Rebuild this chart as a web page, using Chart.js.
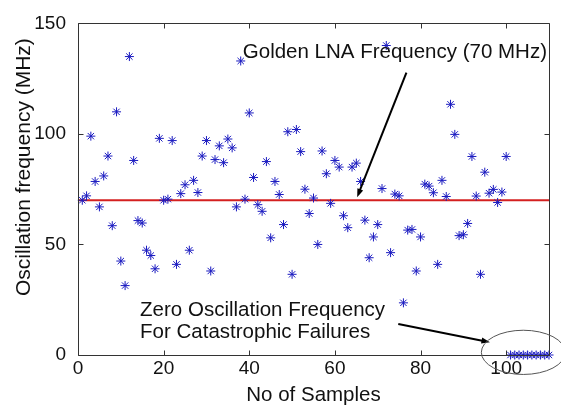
<!DOCTYPE html>
<html>
<head>
<meta charset="utf-8">
<script src="https://cdn.jsdelivr.net/npm/chart.js@4/dist/chart.umd.min.js"></script>
<style>
  html, body { margin: 0; padding: 0; background: #fff; }
  #wrap { width: 561px; height: 407px; }
</style>
</head>
<body>
<div id="wrap"><canvas id="osc"></canvas></div>
<script>
// measured oscillation frequency per sample (MHz), samples 1..110
var freqs = [70, 72, 99, 78.5, 67, 81, 90, 58.5, 110, 42.5,
  31.4, 135, 88, 60.8, 59.7, 47.4, 45, 39, 98, 70,
  70.5, 97, 41, 73, 77, 47.4, 79, 73.5, 90, 97,
  38, 88.4, 94.6, 87, 97.7, 93.7, 67, 133, 70.5, 109.5,
  80.3, 68, 65, 87.5, 53, 78.5, 72.6, 59, 101, 36.5,
  102, 92, 75, 64, 71, 50, 92.3, 82, 68.6, 88,
  85, 63, 57.6, 85, 86.8, 78.5, 61, 44, 53.4, 59,
  75.3, 140, 46.3, 72.8, 72, 23.6, 56.5, 56.8, 38, 53.4,
  77.3, 76.4, 73.4, 41, 79, 71.7, 113.4, 99.8, 54, 54.4,
  59.5, 89.8, 71.9, 36.5, 82.7, 73.2, 74.9, 69, 73.7, 89.8,
  0, 0, 0, 0, 0, 0, 0, 0, 0, 0];
var goldenFreq = 70;
var xMax = 110;
var yMax = 150;
var xTicks = [0, 20, 40, 60, 80, 100];
var yTicks = [0, 50, 100, 150];

// annotation anchors, in data units
var goldenText = "Golden LNA Frequency (70 MHz)";
var zeroText = ["Zero Oscillation Frequency", "For Catastrophic Failures"];
var yTitle = "Oscillation frequency (MHz)";
var arrow1 = [76.7, 127.7, 65.2, 71.4];
var arrow2 = [74.8, 14, 96.2, 5.8];
var ring = [104, 1.2, 9.8, 10]; // cx, cy, rx, ry

var pts = freqs.map(function (v, i) { return { x: i + 1, y: v }; });
var FONT = "'Liberation Sans', Arial, sans-serif";

function arrow(ctx, x1, y1, x2, y2) {
  var a = Math.atan2(y2 - y1, x2 - x1), h = 9;
  ctx.beginPath();
  ctx.moveTo(x1, y1);
  ctx.lineTo(x2 - Math.cos(a) * 4, y2 - Math.sin(a) * 4);
  ctx.stroke();
  ctx.beginPath();
  ctx.moveTo(x2, y2);
  ctx.lineTo(x2 - h * Math.cos(a - 0.35), y2 - h * Math.sin(a - 0.35));
  ctx.lineTo(x2 - h * Math.cos(a + 0.35), y2 - h * Math.sin(a + 0.35));
  ctx.closePath();
  ctx.fill();
}

function seg(ctx, x1, y1, x2, y2) {
  ctx.beginPath();
  ctx.moveTo(x1, y1);
  ctx.lineTo(x2, y2);
  ctx.stroke();
}

// axes box with inward ticks (matlab style)
function drawBox(ctx, l, r, t, b, X, Y) {
  l = Math.round(l) + 0.5; r = Math.round(r) + 0.5;
  t = Math.round(t) + 0.5; b = Math.round(b) + 0.5;
  ctx.save();
  ctx.strokeStyle = '#333';
  ctx.lineWidth = 1;
  seg(ctx, l, t, r, t);
  seg(ctx, r, t, r, b);
  seg(ctx, l, b, r, b);
  seg(ctx, l, t, l, b);
  xTicks.forEach(function (v) {
    var p = Math.round(X(v)) + 0.5;
    seg(ctx, p, b, p, b - 5);
    seg(ctx, p, t, p, t + 5);
  });
  yTicks.forEach(function (v) {
    var p = Math.round(Y(v)) + 0.5;
    seg(ctx, l, p, l + 5, p);
    seg(ctx, r, p, r - 5, p);
  });
  ctx.restore();
}

var notesPlugin = {
  id: 'frameNotes',
  afterDraw: function (chart) {
    var ctx = chart.ctx;
    var xs = chart.scales.x, ys = chart.scales.y;
    var X = function (v) { return xs.getPixelForValue(v); };
    var Y = function (v) { return ys.getPixelForValue(v); };
    drawBox(ctx, X(0), X(xMax), Y(yMax), Y(0), X, Y);
    ctx.save();
    ctx.fillStyle = '#111';
    ctx.font = '20.5px ' + FONT;
    ctx.textBaseline = 'alphabetic';
    ctx.textAlign = 'right';
    ctx.fillText(goldenText, X(xMax) - 2, Y(134.3));
    ctx.textAlign = 'left';
    ctx.fillText(zeroText[0], X(14.5), Y(17.5));
    ctx.fillText(zeroText[1], X(14.5), Y(7.8));

    // y axis title
    ctx.save();
    ctx.translate(24, Y(85));
    ctx.rotate(-Math.PI / 2);
    ctx.textAlign = 'center';
    ctx.textBaseline = 'middle';
    ctx.font = '21px ' + FONT;
    ctx.fillText(yTitle, 0, 0);
    ctx.restore();

    ctx.strokeStyle = '#000';
    ctx.fillStyle = '#000';
    ctx.lineWidth = 2;
    arrow(ctx, X(arrow1[0]), Y(arrow1[1]), X(arrow1[2]), Y(arrow1[3]));
    arrow(ctx, X(arrow2[0]), Y(arrow2[1]), X(arrow2[2]), Y(arrow2[3]));

    ctx.lineWidth = 1;
    ctx.strokeStyle = '#555';
    ctx.beginPath();
    var cx = X(ring[0]), cy = Y(ring[1]);
    var rx = X(ring[0] + ring[2]) - cx, ry = Y(0) - Y(ring[3]);
    ctx.ellipse(cx, cy, rx, ry, 0, 0, Math.PI * 2);
    ctx.stroke();
    ctx.restore();
  }
};

new Chart(document.getElementById('osc'), {
  type: 'scatter',
  data: {
    datasets: [{
      label: 'Samples',
      data: pts,
      pointStyle: 'star',
      pointRadius: 4.5,
      borderWidth: 1,
      borderColor: '#1a1ac0',
      backgroundColor: '#1a1ac0',
      clip: false,
      order: 1
    }, {
      type: 'line',
      label: 'Golden LNA',
      data: [{ x: 0, y: goldenFreq }, { x: xMax, y: goldenFreq }],
      borderColor: '#d42020',
      borderWidth: 2,
      pointRadius: 0,
      order: 2
    }]
  },
  options: {
    responsive: true,
    maintainAspectRatio: false,
    animation: false,
    layout: { padding: { top: 23, right: 12, left: 0, bottom: 0 } },
    plugins: {
      legend: { display: false },
      tooltip: { enabled: false }
    },
    scales: {
      x: {
        type: 'linear',
        min: 0,
        max: xMax,
        grid: { display: false, drawTicks: false },
        border: { display: false },
        afterBuildTicks: function (s) { s.ticks = xTicks.map(function (v) { return { value: v }; }); },
        afterFit: function (s) { s.height = 52; },
        ticks: { color: '#111', font: { family: FONT, size: 19 }, padding: 2, maxRotation: 0 },
        title: { display: true, text: 'No of Samples', color: '#111', font: { family: FONT, size: 20.5 }, padding: { top: 0, bottom: -1 } }
      },
      y: {
        min: 0,
        max: yMax,
        grid: { display: false, drawTicks: false },
        border: { display: false },
        afterBuildTicks: function (s) { s.ticks = yTicks.map(function (v) { return { value: v }; }); },
        afterFit: function (s) { s.width = 78; },
        ticks: { color: '#111', font: { family: FONT, size: 19 }, padding: 12 },
        title: { display: false }
      }
    }
  },
  plugins: [notesPlugin]
});
</script>
</body>
</html>
